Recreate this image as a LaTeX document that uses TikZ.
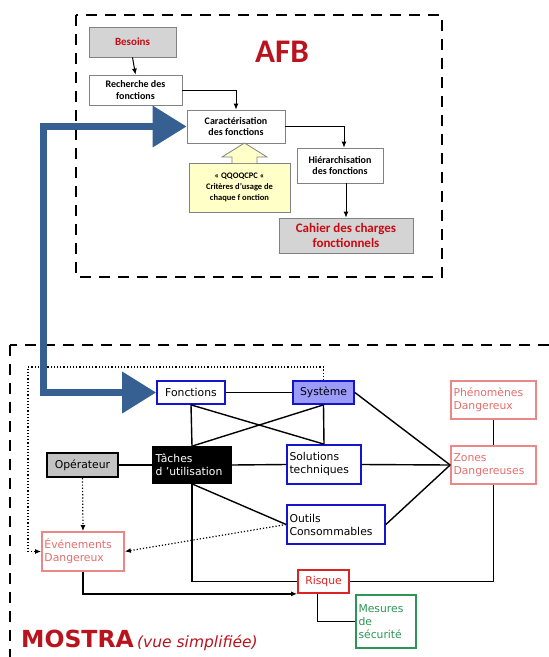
\documentclass[tikz,border=0pt]{standalone}
\usepackage{fontspec}
\setmainfont{DejaVu Sans}
\newfontfamily\afbfont{Carlito}
\usetikzlibrary{arrows.meta,calc}
\definecolor{afbred}{RGB}{185,20,30}
\definecolor{txtred}{RGB}{200,10,20}
\definecolor{boxgray}{RGB}{130,130,130}
\definecolor{fillgray}{RGB}{212,212,212}
\definecolor{opgray}{RGB}{195,195,195}
\definecolor{yfill}{RGB}{255,255,200}
\definecolor{bigblue}{RGB}{55,96,146}
\definecolor{mblue}{RGB}{20,20,205}
\definecolor{sysfill}{RGB}{155,155,250}
\definecolor{pink}{RGB}{235,135,135}
\definecolor{pinktxt}{RGB}{228,110,110}
\definecolor{rred}{RGB}{220,35,35}
\definecolor{mgreen}{RGB}{45,150,85}
\begin{document}
\begin{tikzpicture}[x=1pt,y=-1pt,
  afbbox/.style={draw=boxgray, line width=0.8pt, fill=white, align=center, inner sep=0pt,
    font=\afbfont\bfseries\fontsize{10}{11.5}\selectfont},
  afbgraybox/.style={afbbox, fill=fillgray, text=txtred},
  frame/.style={draw=black, line width=2.6pt, dash pattern=on 11pt off 8pt},
  mbox/.style={draw, line width=1.7pt, fill=white, inner sep=2.5pt, align=left,
    font=\fontsize{10.8}{13}\selectfont},
  bluebox/.style={mbox, draw=mblue},
  pinkbox/.style={mbox, draw=pink, text=pinktxt},
  link/.style={line width=1.4pt, draw=black},
  dotlink/.style={line width=1.2pt, dotted, draw=black},
  tip/.style={-{Latex[length=6pt,width=5pt]}}
]
\useasboundingbox (0,0) rectangle (549,657);
\clip (0,0) rectangle (549,657);
\fill[white] (0,0) rectangle (549,657);

% ---------- AFB ----------
\draw[frame] (76,15) rectangle (442,277);
\node[font=\afbfont\bfseries\fontsize{33}{33}\selectfont, text=afbred] (afb) at (282,52) {AFB};
\node[afbgraybox, minimum width=87pt, minimum height=30pt, font=\afbfont\bfseries\fontsize{11}{12}\selectfont] (bes) at (132.5,42) {Besoins};
\node[afbbox, minimum width=93pt, minimum height=30pt] (rech) at (135.5,90) {Recherche des\\fonctions};
\node[afbbox, minimum width=98pt, minimum height=33pt] (car) at (236,126.5) {Caractérisation\\des fonctions};
\node[afbbox, minimum width=86pt, minimum height=35pt] (hier) at (340,165.5) {Hiérarchisation\\des fonctions};
\node[afbbox, fill=yfill, minimum width=101pt, minimum height=49pt,
  font=\afbfont\bfseries\fontsize{8.5}{11}\selectfont] (qq) at (239.5,187.5) {« QQOQCPC «\\Critères d’usage de\\chaque f onction};
\node[afbgraybox, minimum width=134pt, minimum height=35pt,
  font=\afbfont\bfseries\fontsize{13}{15}\selectfont] (cdc) at (346,235.5) {Cahier des charges\\fonctionnels};
\draw[fill=yfill, draw=boxgray, line width=0.8pt]
  (232,163) -- (232,157) -- (222,157) -- (244.5,143) -- (267,157) -- (257,157) -- (257,163);
\draw[line width=1pt, tip] (bes.south) -- (rech.north);
\draw[line width=1pt, tip] (rech.east) -| (car.north);
\draw[line width=1pt, tip] (car.east) -| ($(hier.north)+(4,0)$);
\draw[line width=1pt, tip] (cdc.north |- hier.south) -- (cdc.north);

% ---------- MOSTRA ----------
\draw[frame] (10,345) rectangle (580,700);
\node[bluebox, minimum width=68pt, minimum height=23pt, align=center] (fon) at (191,392.5) {Fonctions};
\node[bluebox, fill=sysfill, minimum width=61pt, minimum height=23pt, align=center] (sys) at (323.5,392.5) {Système};
\node[mbox, fill=black, text=white, draw=black, text width=73pt, minimum height=36pt] (tac) at (192,465) {Tâches\\d ’utilisation};
\node[bluebox, text width=69pt, minimum height=39pt] (sol) at (324,464.5) {Solutions\\techniques};
\node[bluebox, text width=93pt, minimum height=39pt] (out) at (336,524.5) {Outils\\Consommables};
\node[mbox, draw=rred, text=rred, minimum width=51pt, minimum height=23pt, align=center] (ris) at (323.5,581.5) {Risque};
\node[mbox, fill=opgray, line width=2.2pt, minimum width=71pt, minimum height=24pt, align=center] (op) at (82.5,465) {Opérateur};
\node[pinkbox, text width=77pt, minimum height=39pt] (eve) at (83,551.5) {Événements\\Dangereux};
\node[pinkbox, text width=80pt, minimum height=38pt] (phe) at (493.5,400) {Phénomènes\\Dangereux};
\node[pinkbox, text width=80pt, minimum height=38pt] (zon) at (493.5,465) {Zones\\Dangereuses};
\node[mbox, draw=mgreen, text=mgreen, text width=55pt, minimum height=53pt] (mes) at (386,621.5) {Mesures\\de\\sécurité};
\node[anchor=base west, inner sep=0pt, text=afbred] (mos) at (21,647)
  {{\bfseries\fontsize{23.5}{24}\selectfont MOSTRA}\,\,{\itshape\fontsize{15.5}{16}\selectfont (vue simplifiée)}};

% connectors
\draw[link] (fon.east) -- (sys.west);
\draw[link] (fon.south) -- (tac.north);
\draw[link] (fon.south) -- (sol.north);
\draw[link] (sys.south) -- (tac.north);
\draw[link] (sys.south) -- (sol.north);
\draw[link] (op.east) -- (tac.west);
\draw[link] (tac.east) -- (sol.west);
\draw[link] (tac.south) -- (out.west);
\draw[link] (tac.south) |- (ris.west);
\draw[link] (sys.east) -- (zon.west);
\draw[link] (sol.east) -- (zon.west);
\draw[link] (out.east) -- (zon.west);
\draw[link] (phe.south) -- (zon.north);
\draw[link] (zon.south) |- (ris.east);
\draw[link] ($(ris.south)+(-6,0)$) |- (mes.west);
\draw[link, line width=1.8pt, tip] (eve.south) |- (ris.south west);
\coordinate (dc1) at (sys.north |- 0,367);
\coordinate (dc2) at (28,367);
\draw[dotlink, tip] (sys.north) -- (dc1) -- (dc2) |- (eve.west);
\draw[dotlink, tip] (op.south) -- (eve.north);
\draw[dotlink, tip] (out.west) -- (eve.east);

% big blue arrow
\coordinate (bb) at (43,300);
\draw[bigblue, line width=7pt, line join=miter,
  {Triangle[length=34pt,width=40pt]}-{Triangle[length=34pt,width=40pt]}]
  (fon.west) -| (bb) |- (car.west);
\end{tikzpicture}
\end{document}
